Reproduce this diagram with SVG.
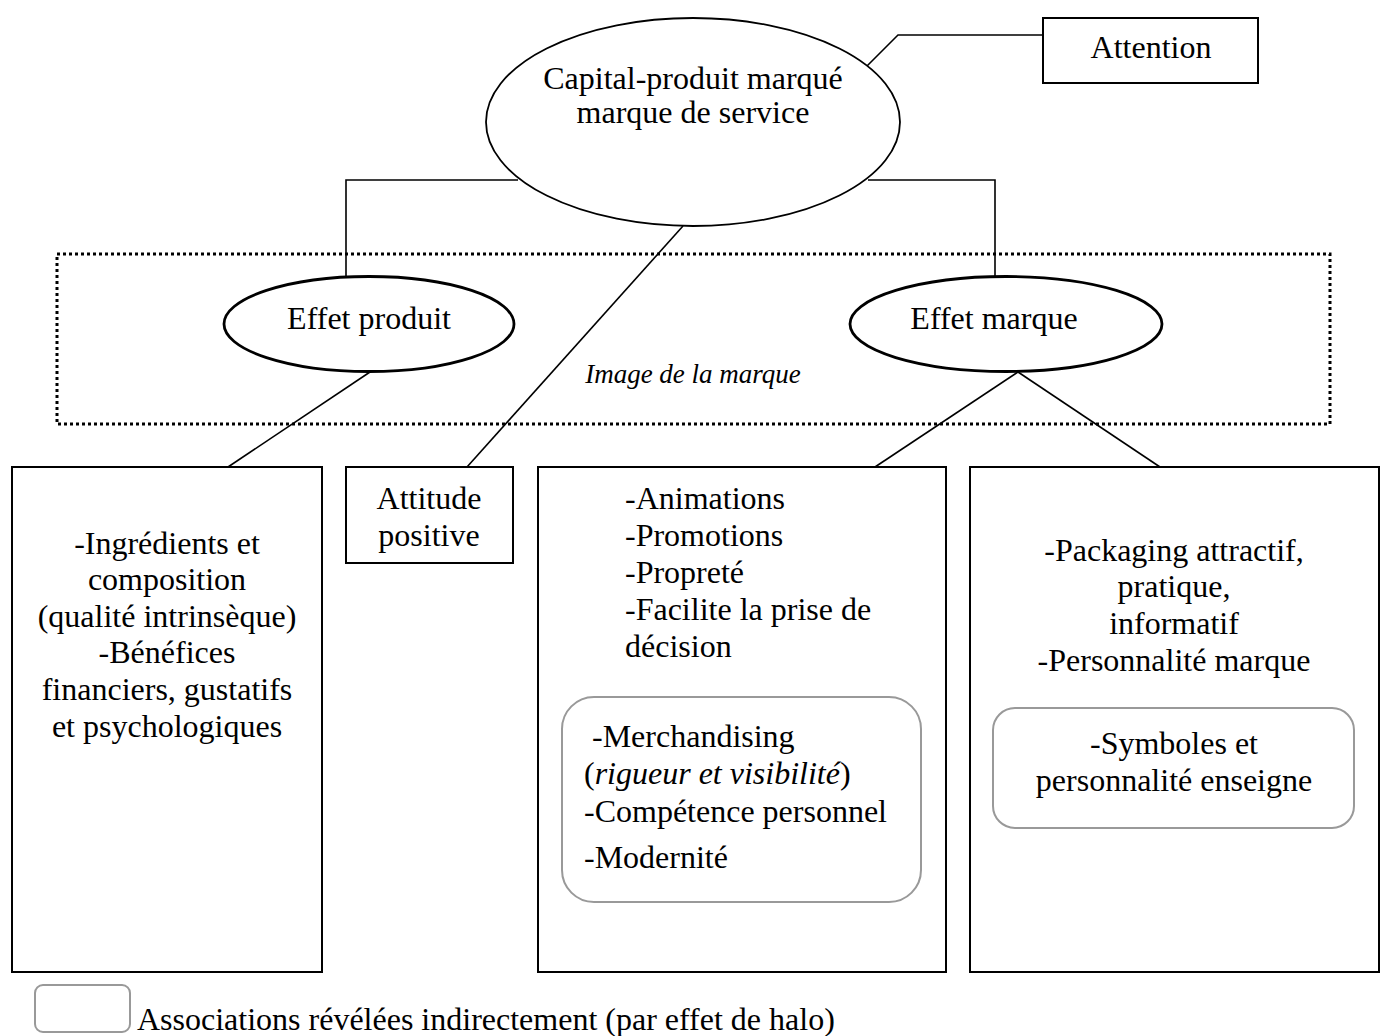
<svg xmlns="http://www.w3.org/2000/svg" width="1386" height="1036" viewBox="0 0 1386 1036">
  <style>
    text { font-family: "Liberation Serif", "Times New Roman", serif; font-size: 32px; fill: #000; }
    .c { text-anchor: middle; }
    .i { font-style: italic; }
    .small { font-size: 27px; }
    .box { fill: #fff; stroke: #000; stroke-width: 2; }
    .oval { fill: #fff; stroke: #000; stroke-width: 1.8; }
    .oval-b { fill: #fff; stroke: #000; stroke-width: 2.8; }
    .soft { fill: none; stroke: #999; stroke-width: 2; }
    .link { fill: none; stroke: #000; stroke-width: 1.6; }
    .zone { fill: none; stroke: #000; stroke-width: 3; stroke-dasharray: 3 3; }
  </style>
  <rect width="1386" height="1036" fill="#fff"/>

  <!-- "Image de la marque" zone -->
  <g id="image-zone">
    <rect class="zone" x="57" y="254" width="1273" height="170"/>
    <text class="i c small" x="693" y="383">Image de la marque</text>
  </g>

  <!-- connectors -->
  <g id="connectors">
    <polyline class="link" points="1043,35 898,35 867,66"/>
    <polyline class="link" points="518,180 346,180 346,277"/>
    <polyline class="link" points="868,180 995,180 995,277"/>
    <line class="link" x1="683" y1="226" x2="467" y2="467"/>
    <line class="link" x1="370" y1="372" x2="228" y2="467"/>
    <line class="link" x1="1018" y1="372" x2="875" y2="467"/>
    <line class="link" x1="1018" y1="372" x2="1160" y2="467"/>
  </g>

  <g id="capital">
    <ellipse class="oval" cx="693" cy="122" rx="207" ry="104"/>
    <text class="c" x="693" y="89">Capital-produit marqué</text>
    <text class="c" x="693" y="123">marque de service</text>
  </g>

  <g id="attention">
    <rect class="box" x="1043" y="18" width="215" height="65"/>
    <text class="c" x="1151" y="58">Attention</text>
  </g>

  <g id="effet-produit">
    <ellipse class="oval-b" cx="369" cy="324" rx="145" ry="47.5"/>
    <text class="c" x="369" y="329">Effet produit</text>
  </g>

  <g id="effet-marque">
    <ellipse class="oval-b" cx="1006" cy="324" rx="156" ry="47.5"/>
    <text class="c" x="994" y="329">Effet marque</text>
  </g>

  <g id="produit-associations">
    <rect class="box" x="12" y="467" width="310" height="505"/>
    <text class="c" x="167" y="554">-Ingrédients et</text>
    <text class="c" x="167" y="590">composition</text>
    <text class="c" x="167" y="627">(qualité intrinsèque)</text>
    <text class="c" x="167" y="663">-Bénéfices</text>
    <text class="c" x="167" y="700">financiers, gustatifs</text>
    <text class="c" x="167" y="737">et psychologiques</text>
  </g>

  <g id="attitude">
    <rect class="box" x="346" y="467" width="167" height="96"/>
    <text class="c" x="429" y="509">Attitude</text>
    <text class="c" x="429" y="546">positive</text>
  </g>

  <g id="service-associations">
    <rect class="box" x="538" y="467" width="408" height="505"/>
    <text x="625" y="509">-Animations</text>
    <text x="625" y="546">-Promotions</text>
    <text x="625" y="583">-Propreté</text>
    <text x="625" y="620">-Facilite la prise de</text>
    <text x="625" y="657">décision</text>
    <rect class="soft" x="562" y="697" width="359" height="205" rx="32"/>
    <text x="592" y="747">-Merchandising</text>
    <text x="584" y="784">(<tspan class="i">rigueur et visibilité</tspan>)</text>
    <text x="584" y="822">-Compétence personnel</text>
    <text x="584" y="868">-Modernité</text>
  </g>

  <g id="marque-associations">
    <rect class="box" x="970" y="467" width="409" height="505"/>
    <text class="c" x="1174" y="561">-Packaging attractif,</text>
    <text class="c" x="1174" y="597">pratique,</text>
    <text class="c" x="1174" y="634">informatif</text>
    <text class="c" x="1174" y="671">-Personnalité marque</text>
    <rect class="soft" x="993" y="708" width="361" height="120" rx="22"/>
    <text class="c" x="1174" y="754">-Symboles et</text>
    <text class="c" x="1174" y="791">personnalité enseigne</text>
  </g>

  <g id="legend">
    <rect class="soft" x="35" y="985" width="95" height="47" rx="8" stroke="#bbb"/>
    <text x="137" y="1030">Associations révélées indirectement (par effet de halo)</text>
  </g>
</svg>
